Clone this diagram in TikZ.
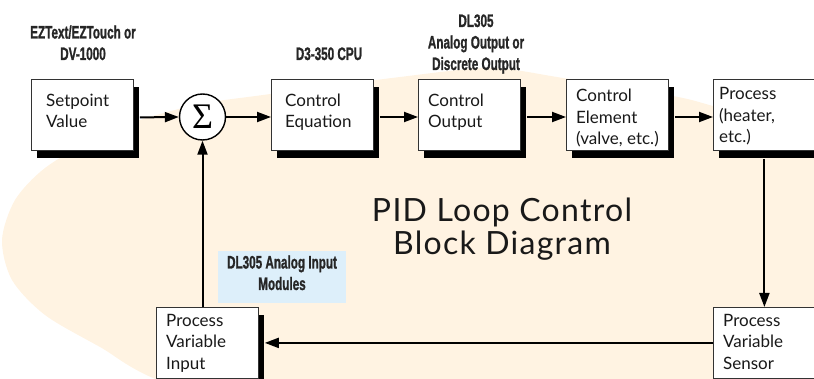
\documentclass[tikz,border=0pt]{standalone}
\usepackage{fontspec}
\usepackage{graphicx}
\setmainfont{Lato}
\newfontfamily\labfont[FakeBold=1.5]{Liberation Sans Bold}
\newfontfamily\sigfont{Liberation Serif}
\newfontfamily\titlefont[LetterSpace=4]{Lato}
\usetikzlibrary{arrows.meta,calc,shadows}
\definecolor{cream}{HTML}{FFF3E2}
\definecolor{skyblue}{HTML}{DDEFFA}
\newcommand\cnd[1]{\scalebox{0.65}[1]{#1}}
\begin{document}
\begin{tikzpicture}[x=1pt,y=-1pt,
  blk/.style={draw=black!80, line width=0.8pt, fill=white, minimum width=102pt, minimum height=71pt, anchor=north west, inner sep=0pt},
  shblk/.style={blk, drop shadow={shadow xshift=6pt, shadow yshift=-8pt, opacity=1, fill=black}},
  txt/.style={anchor=base west, align=left, inner sep=0pt, font=\fontsize{17}{21.5}\selectfont, text=black!90},
  lab/.style={align=center, inner sep=0pt, font=\labfont\fontsize{18}{21.5}\selectfont, text=black!85, anchor=base},
  flow/.style={line width=2pt, -{Triangle[length=14pt,width=10pt]}}
]
\useasboundingbox (0,0) rectangle (814,379);
\clip (0,0) rectangle (814,379);
% background blob
\fill[cream] plot[smooth cycle] coordinates {(2,240) (15,200) (45,168) (95,138) (140,120) (200,104) (263,95) (400,77) (490,68) (563,78) (673,96) (713,106) (780,125) (850,160) (880,260) (800,420) (400,460) (170,385) (100,347) (45,315) (12,280)};
% blue label area
\node[fill=skyblue, minimum width=128pt, minimum height=52pt, anchor=north west, inner sep=0pt] (bb) at (218,251) {};
% boxes
\node[shblk] (sp) at (31,79) {};
\node[shblk] (ce) at (271,79) {};
\node[shblk] (co) at (418,79) {};
\node[shblk] (el) at (566,79) {};
\node[shblk] (pr) at (713,79) {};
\node[shblk] (pvi) at (156,307) {};
\node[blk] (pvs) at (713,307) {};
% box texts (base = last line)
\node[txt] (spT) at (46,128) {Setpoint\\Value};
\node[txt] (ceT) at (285,128) {Control\\Equation};
\node[txt] (coT) at (428,128) {Control\\Output};
\node[txt] (elT) at (576,145) {Control\\Element\\(valve, etc.)};
\node[txt] (prT) at (719,143) {Process\\(heater,\\etc.)};
\node[txt] (pviT) at (166,369) {Process\\Variable\\Input};
\node[txt] (pvsT) at (723,369) {Process\\Variable\\Sensor};
% summing junction
\node[circle, draw, line width=1.4pt, fill=white, minimum size=46pt, inner sep=0pt] (sum) at (202.5,117) {\sigfont\fontsize{36}{36}\selectfont Σ};
% labels
\node[lab] (l1) at (83,60) {\cnd{EZText/EZTouch or}\\\cnd{DV-1000}};
\node[lab] (l2) at (329,60) {\cnd{D3-350 CPU}};
\node[lab] (l3) at (476,70) {\cnd{DL305}\\\cnd{Analog Output or}\\\cnd{Discrete Output}};
\node[lab] (l4) at (282,290) {\cnd{DL305 Analog Input}\\\cnd{Modules}};
% title
\node[anchor=base, align=center, inner sep=0pt, font=\titlefont\fontsize{32}{33}\selectfont, text=black!90] (title) at (502,255) {PID Loop Control\\Block Diagram};
% connectors
\draw[flow] ($(sp.east)+(6,2.5)$) -- (sum.west);
\draw[flow] (sum.east) -- (ce.west |- sum.east);
\draw[flow] ($(ce.east |- sum.east)+(6,0)$) -- (co.west |- sum.east);
\draw[flow] ($(co.east |- sum.east)+(6,0)$) -- (el.west |- sum.east);
\draw[flow] ($(el.east |- sum.east)+(6,0)$) -- (pr.west |- sum.east);
\draw[flow] ($(pr.south)+(0,8)$) -- (pvs.north);
\draw[flow] (pvs.west) -- ($(pvi.east)+(6,0)$);
\draw[flow] (sum.south |- pvi.north) -- (sum.south);
\end{tikzpicture}
\end{document}
